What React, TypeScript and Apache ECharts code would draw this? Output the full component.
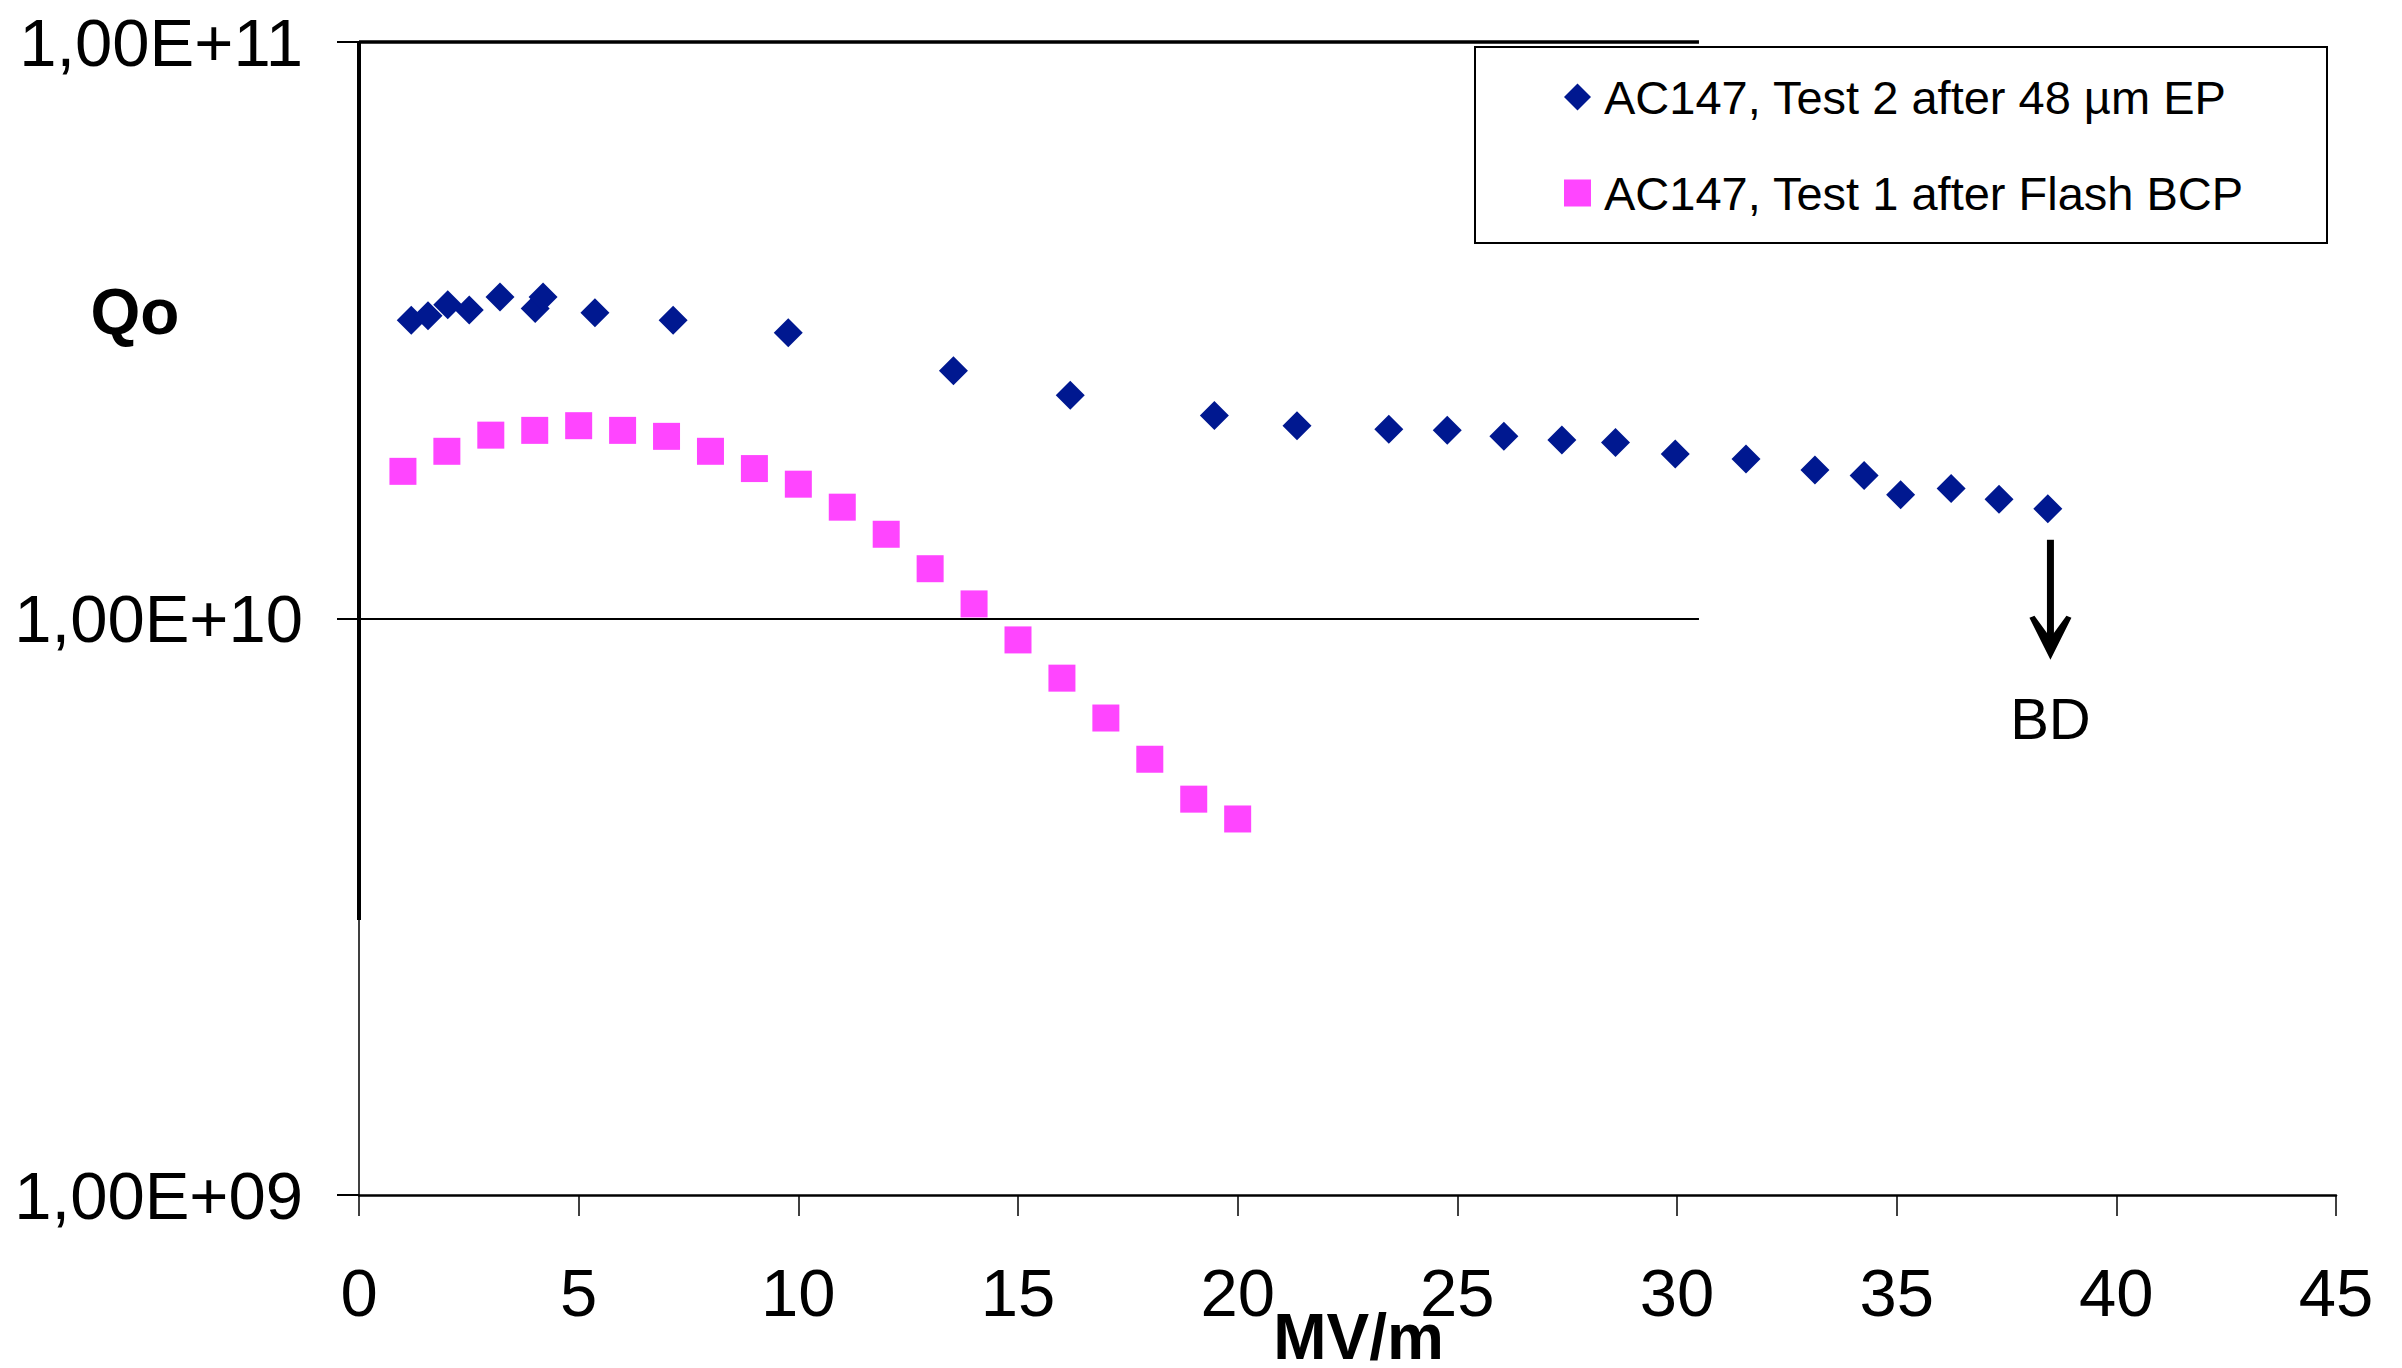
import React, { useEffect, useRef } from "react";
import * as echarts from "echarts";

// ---- data ----
const seriesNames = ["AC147, Test 2 after 48 µm EP", "AC147, Test 1 after Flash BCP"];

const epField = [1.19, 1.57, 2.02, 2.51, 3.21, 4.01, 4.19, 5.37, 7.15, 9.77, 13.53, 16.19, 19.47, 21.35, 23.44, 24.77, 26.06, 27.38, 28.6, 29.96, 31.57, 33.14, 34.26, 35.09, 36.24, 37.33, 38.44];
const epQo = [3.29e10, 3.35e10, 3.5e10, 3.43e10, 3.61e10, 3.45e10, 3.61e10, 3.39e10, 3.29e10, 3.13e10, 2.69e10, 2.44e10, 2.25e10, 2.16e10, 2.13e10, 2.12e10, 2.07e10, 2.04e10, 2.02e10, 1.93e10, 1.89e10, 1.81e10, 1.77e10, 1.64e10, 1.68e10, 1.61e10, 1.55e10];

const bcpField = [1, 2, 3, 4, 5, 6, 7, 8, 9, 10, 11, 12, 13, 14, 15, 16, 17, 18, 19, 20];
const bcpQo = [1.8e10, 1.95e10, 2.08e10, 2.12e10, 2.16e10, 2.12e10, 2.07e10, 1.95e10, 1.82e10, 1.71e10, 1.56e10, 1.4e10, 1.22e10, 1.06e10, 9.18e9, 7.88e9, 6.72e9, 5.7e9, 4.86e9, 4.49e9];

const yTickLabels = ["1,00E+09", "1,00E+10", "1,00E+11"];
const xMin = 0;
const xMax = 45;
const xStep = 5;
const yMin = 1e9;
const yMax = 1e11;
const gridLineEnd = 30.5; // partial horizontal lines end here (MV/m)
const thickAxisEnd = 3e9; // thick part of the y axis ends here
const bdField = 38.5; // breakdown arrow position

const FONT = "'Liberation Sans', Arial, Helvetica, sans-serif";

export default function App() {
  const ref = useRef<HTMLDivElement>(null);

  useEffect(() => {
    if (!ref.current) return;
    const chart = echarts.init(ref.current, undefined, { renderer: "svg" });

    const epData = epField.map((x, i) => [x, epQo[i]]);
    const bcpData = bcpField.map((x, i) => [x, bcpQo[i]]);

    chart.setOption({
      animation: false,
      backgroundColor: "#ffffff",
      grid: { left: 359, right: 66, top: 42, bottom: 173, containLabel: false, outerBoundsMode: "none" },
      xAxis: {
        type: "value",
        min: xMin,
        max: xMax,
        interval: xStep,
        name: "MV/m",
        nameLocation: "middle",
        nameGap: 110,
        nameMoveOverlap: false,
        nameTextStyle: { fontFamily: FONT, fontSize: 64, fontWeight: "bold", color: "#000", padding: [0, 0, 0, 22] },
        axisLine: { lineStyle: { color: "#000", width: 2.5 } },
        axisTick: { show: true, inside: false, length: 21, lineStyle: { color: "#000", width: 1.5 } },
        axisLabel: { fontFamily: FONT, fontSize: 67, color: "#000", margin: 97, verticalAlign: "middle" },
        splitLine: { show: false },
      },
      yAxis: {
        type: "log",
        logBase: 10,
        min: yMin,
        max: yMax,
        axisLine: { show: true, lineStyle: { color: "#000", width: 1.5 } },
        axisTick: { show: true, inside: false, length: 22, lineStyle: { color: "#000", width: 2 } },
        minorTick: { show: false },
        axisLabel: {
          fontFamily: FONT,
          fontSize: 67,
          color: "#000",
          margin: 56,
          formatter: (v: number) => yTickLabels[Math.round(Math.log10(v)) - 9] ?? "",
        },
        splitLine: { show: false },
      },
      legend: {
        orient: "vertical",
        left: 1564,
        top: 72,
        padding: 0,
        itemWidth: 27,
        itemHeight: 27,
        itemGap: 46,
        selectedMode: false,
        textStyle: { fontFamily: FONT, fontSize: 47, color: "#000", lineHeight: 50, padding: [0, 0, 0, 8] },
        data: seriesNames,
      },
      series: [
        {
          name: seriesNames[0],
          type: "scatter",
          symbol: "diamond",
          symbolSize: 29,
          itemStyle: { color: "#001890", opacity: 1 },
          data: epData,
          z: 3,
          markLine: {
            silent: true,
            symbol: ["none", "none"],
            label: { show: false },
            data: [
              [
                { coord: [xMin, yMax], lineStyle: { color: "#000", width: 3.5, type: "solid" } },
                { coord: [gridLineEnd, yMax] },
              ],
              [
                { coord: [xMin, 1e10], lineStyle: { color: "#000", width: 2, type: "solid" } },
                { coord: [gridLineEnd, 1e10] },
              ],
              [
                { coord: [xMin, yMax], lineStyle: { color: "#000", width: 4, type: "solid" } },
                { coord: [xMin, thickAxisEnd] },
              ],
            ],
          },
        },
        {
          name: seriesNames[1],
          type: "scatter",
          symbol: "rect",
          symbolSize: 27,
          itemStyle: { color: "#ff45ff", opacity: 1 },
          data: bcpData,
          z: 2,
        },
      ],
    });

    const lastQ = epQo[epQo.length - 1];
    const p = chart.convertToPixel({ xAxisIndex: 0, yAxisIndex: 0 }, [bdField, lastQ]) as number[];
    const ax = p[0];
    const ay = p[1];
    const shaftTop = ay + 31;
    const tip = ay + 151;
    const headBase = tip - 42;

    chart.setOption({
      graphic: [
        {
          type: "rect",
          shape: { x: 1475, y: 47, width: 852, height: 196 },
          style: { fill: "none", stroke: "#000", lineWidth: 2 },
          z: 1,
        },
        {
          type: "text",
          x: 135,
          y: 312,
          style: { text: "Qo", fontFamily: FONT, fontSize: 64, fontWeight: "bold", fill: "#000", textAlign: "center", textVerticalAlign: "middle" },
        },
        {
          type: "line",
          shape: { x1: ax, y1: shaftTop, x2: ax, y2: tip - 20 },
          style: { stroke: "#000", lineWidth: 7 },
        },
        {
          type: "polygon",
          shape: {
            points: [
              [ax - 21, headBase],
              [ax - 16, headBase - 2],
              [ax, headBase + 20],
              [ax + 16, headBase - 2],
              [ax + 21, headBase],
              [ax, tip],
            ],
          },
          style: { fill: "#000" },
        },
        {
          type: "text",
          x: ax,
          y: tip + 59,
          style: { text: "BD", fontFamily: FONT, fontSize: 58, fill: "#000", textAlign: "center", textVerticalAlign: "middle" },
        },
      ],
    });

    return () => chart.dispose();
  }, []);

  return (
    <div
      ref={ref}
      style={{ position: "absolute", left: 0, top: 0, width: 2402, height: 1368, background: "#fff" }}
    />
  );
}
